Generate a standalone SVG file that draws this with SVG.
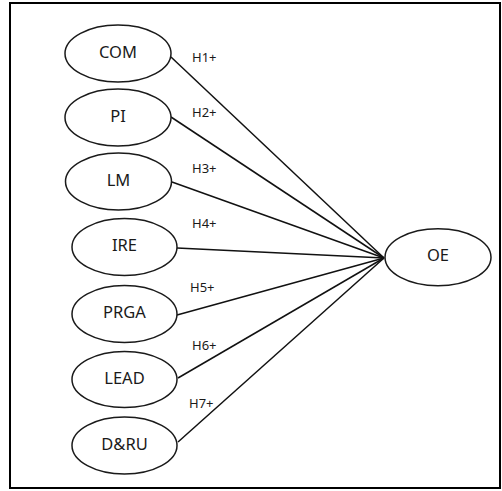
<svg xmlns="http://www.w3.org/2000/svg" width="502" height="491" viewBox="0 0 502 491">
<style>
.frame{fill:none;stroke:#000;stroke-width:2}
.node ellipse{fill:#fff;stroke:#1a1a1a;stroke-width:1.5}
.node text{font-family:"Noto Sans","Open Sans",sans-serif;font-size:16.5px;fill:#1a1a1a;text-anchor:middle}
.lbl{font-family:"Noto Sans","Open Sans",sans-serif;font-size:13px;fill:#1a1a1a}
#connectors line{stroke:#111;stroke-width:1.5}
</style>
<rect class="frame" x="10" y="3" width="490" height="485"/>
<g id="connectors">
<line x1="171" y1="57" x2="384" y2="258"/>
<line x1="171" y1="117" x2="384" y2="258"/>
<line x1="172" y1="182" x2="384" y2="258"/>
<line x1="177" y1="248" x2="384" y2="258"/>
<line x1="177" y1="315" x2="384" y2="258"/>
<line x1="178" y1="378" x2="384" y2="258"/>
<line x1="178" y1="442" x2="384" y2="258"/>
<text class="lbl" x="192" y="61.5">H1+</text>
<text class="lbl" x="192" y="116.5">H2+</text>
<text class="lbl" x="192" y="173.3">H3+</text>
<text class="lbl" x="192" y="228.3">H4+</text>
<text class="lbl" x="190" y="291.7">H5+</text>
<text class="lbl" x="192" y="350">H6+</text>
<text class="lbl" x="189" y="408.3">H7+</text>
</g>
<g id="COM" class="node"><ellipse cx="118" cy="53.5" rx="53" ry="28.5"/><text x="118" y="57.7">COM</text></g>
<g id="PI" class="node"><ellipse cx="118" cy="117.5" rx="53" ry="28.5"/><text x="118" y="121.7">PI</text></g>
<g id="LM" class="node"><ellipse cx="118.5" cy="181.5" rx="53" ry="28.5"/><text x="118.5" y="185.5">LM</text></g>
<g id="IRE" class="node"><ellipse cx="124.5" cy="247" rx="52.5" ry="28.5"/><text x="124.5" y="251">IRE</text></g>
<g id="PRGA" class="node"><ellipse cx="124.5" cy="314" rx="52.5" ry="28.5"/><text x="124.5" y="318">PRGA</text></g>
<g id="LEAD" class="node"><ellipse cx="124.5" cy="379.5" rx="52.5" ry="28"/><text x="124.5" y="383.5">LEAD</text></g>
<g id="DRU" class="node"><ellipse cx="124.5" cy="445.5" rx="52.5" ry="28.5"/><text x="124.5" y="449.5">D&amp;RU</text></g>
<g id="OE" class="node"><ellipse cx="438" cy="257.3" rx="53" ry="28.5"/><text x="438" y="261.3">OE</text></g>
</svg>
